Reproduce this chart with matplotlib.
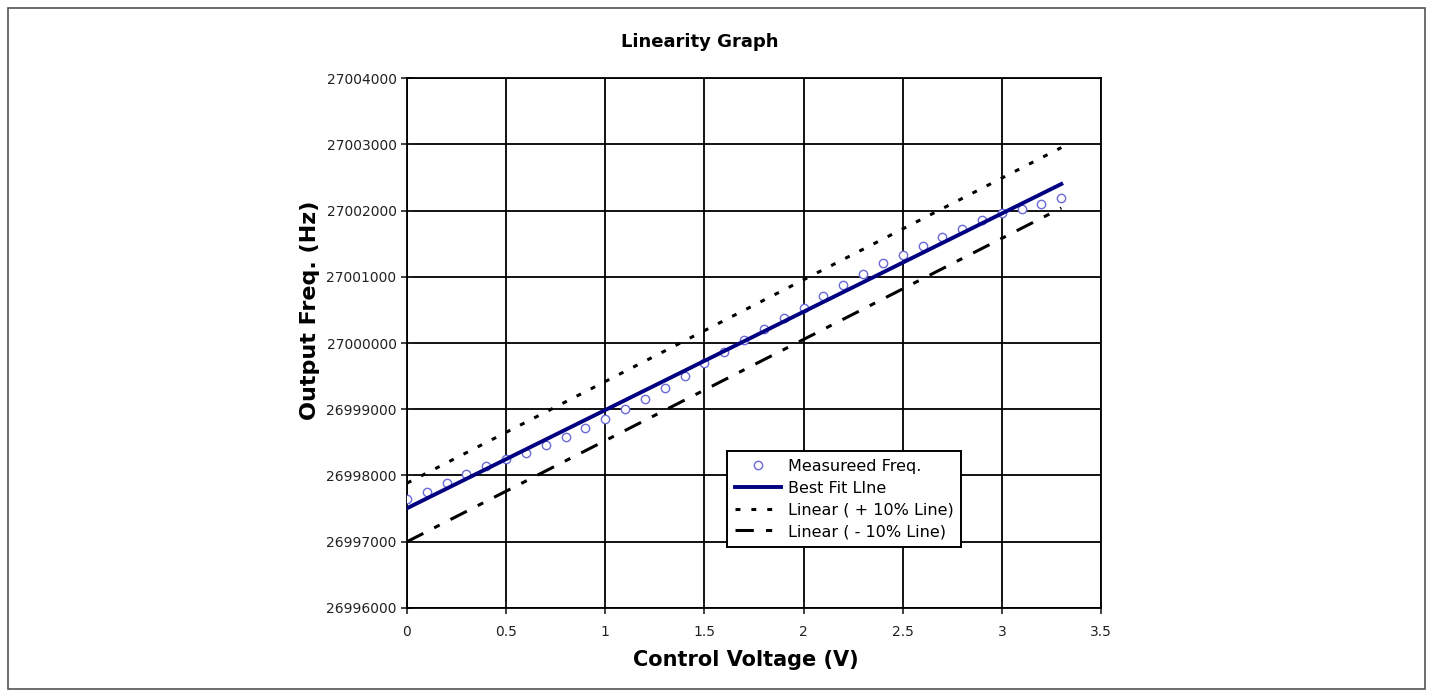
import numpy as np
import matplotlib.pyplot as plt
from matplotlib.patches import Rectangle
from matplotlib.ticker import FuncFormatter


# control voltage steps (V)
voltage = [0.0, 0.1, 0.2, 0.3, 0.4, 0.5, 0.6, 0.7, 0.8, 0.9, 1.0, 1.1,
           1.2, 1.3, 1.4, 1.5, 1.6, 1.7, 1.8, 1.9, 2.0, 2.1, 2.2, 2.3,
           2.4, 2.5, 2.6, 2.7, 2.8, 2.9, 3.0, 3.1, 3.2, 3.3]

measured = [26997645, 26997755, 26997890, 26998023, 26998143, 26998250,
            26998335, 26998460, 26998586, 26998712, 26998848, 26999003,
            26999150, 26999316, 26999502, 26999693, 26999869, 27000045,
            27000206, 27000373, 27000524, 27000709, 27000875, 27001042,
            27001203, 27001328, 27001464, 27001596, 27001717, 27001857,
            27001958, 27002018, 27002098, 27002184]

# line end points (V, Hz)
fit_x = [0.0, 3.3]
fit_y = [26997505, 27002400]
plus_x = [0.0, 3.3]
plus_y = [26997884, 27002950]
minus_x = [0.0, 3.3]
minus_y = [26997000, 27002038]

x_ticks = [0, 0.5, 1, 1.5, 2, 2.5, 3, 3.5]
y_ticks = [26996000, 26997000, 26998000, 26999000, 27000000,
           27001000, 27002000, 27003000, 27004000]


fig = plt.figure(figsize=(14.33, 6.93), dpi=100)
ax = fig.add_axes([0.284, 0.1227, 0.4843, 0.7647])

ax.plot(voltage, measured, linestyle="none", marker="o", markersize=6,
        markerfacecolor="white", markeredgecolor="#6a6ad8",
        markeredgewidth=1.0, label="Measureed Freq.", zorder=4)
ax.plot(fit_x, fit_y, color="#000080", linewidth=2.8,
        label="Best Fit LIne", zorder=5)
ax.plot(plus_x, plus_y, color="black", linewidth=2.2,
        dashes=(1.6, 3.6), label="Linear ( + 10% Line)", zorder=3)
ax.plot(minus_x, minus_y, color="black", linewidth=2.2,
        dashes=(6, 4, 2, 4), label="Linear ( - 10% Line)", zorder=3)

ax.set_xlim(0, 3.5)
ax.set_ylim(26996000, 27004000)
ax.set_xticks(x_ticks)
ax.set_yticks(y_ticks)
ax.xaxis.set_major_formatter(FuncFormatter(lambda v, p: "%g" % v))
ax.yaxis.set_major_formatter(FuncFormatter(lambda v, p: "%d" % v))
ax.tick_params(direction="inout", length=8, width=1.2, labelsize=10,
               colors="#222222")
ax.tick_params(axis="x", pad=8)

ax.grid(True, color="black", linewidth=1.3)
ax.set_axisbelow(True)
for s in ax.spines.values():
    s.set_linewidth(1.3)

fig.text(700 / 1433, 1 - 42 / 693, "Linearity Graph", fontsize=13,
         fontweight="bold", ha="center", va="center")
ax.set_xlabel("Control Voltage (V)", fontsize=15, fontweight="bold")
ax.xaxis.set_label_coords(0.488, -0.08)
ax.set_ylabel("Output Freq. (Hz)", fontsize=16, fontweight="bold")
ax.yaxis.set_label_coords(-0.125, 0.562)

leg = ax.legend(loc="lower left", bbox_to_anchor=(0.461, 0.115),
                fontsize=11.5, numpoints=1, handlelength=2.9,
                fancybox=False, framealpha=1, borderaxespad=0,
                labelspacing=0.42, borderpad=0.5, handletextpad=0.4)
leg.get_frame().set_edgecolor("black")
leg.get_frame().set_linewidth(1.4)

# outer border of the picture
fig.patches.append(Rectangle((8 / 1433, 4 / 693), 1417 / 1433, 681 / 693,
                             transform=fig.transFigure, fill=False,
                             edgecolor="#555555", linewidth=1.2))

plt.savefig("out.png", dpi=100)
